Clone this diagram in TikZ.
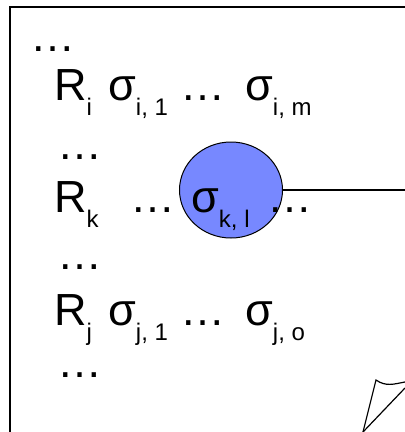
\documentclass[tikz,border=0pt]{standalone}
\usepackage{fontspec}
\setmainfont{Liberation Sans}
\usetikzlibrary{positioning,shapes.geometric}
\definecolor{markblue}{RGB}{119,136,255}
\newcommand{\lowsub}[1]{\raisebox{-15pt}{\fontsize{24}{24}\selectfont #1}}

\begin{document}
\begin{tikzpicture}[
  x=1pt, y=-1pt,
  term/.style={anchor=base west, inner sep=0pt, font=\fontsize{45}{45}\selectfont},
  gap/.style={term, text height=8pt, text depth=0pt},
  page/.style={draw, line width=1.6pt},
  chosen/.style={draw, line width=1pt, fill=markblue, ellipse, minimum width=103pt,
               minimum height=96pt, inner sep=0pt},
  link/.style={draw, line width=1.2pt}
]
\useasboundingbox (0,0) rectangle (405,432);
% the sheet and its folded corner
\draw[page] (10,440) -- (10,7) -- (412,7);
\draw[link] (363,432) -- (376,380) .. controls (386,387) and (394,384) .. (405,382);
\draw[link] (405,388) -- (363,432);
% the marked symbol
\node[chosen] (sel) at (231,190) {};
\coordinate (out) at (405,190);
\draw[link] (sel.east) -- (out);
% rows
\node[gap]  (top)  at (30,51)   {…};
\node[term] (ri)   at (54,100)  {R\lowsub{i}};
\node[term] (si1)  at (108,100) {σ\lowsub{i, 1}};
\node[gap]  (di)   at (180,100) {…};
\node[term] (sim)  at (245,100) {σ\lowsub{i, m}};
\node[gap]  (d1)   at (57,159)  {…};
\node[term] (rk)   at (54,212)  {R\lowsub{k}};
\node[gap]  (dk1)  at (130,212) {…};
\node[term] (skl)  at (191,212) {σ\lowsub{k, l}};
\node[gap]  (dk2)  at (267,212) {…};
\node[gap]  (d2)   at (57,269)  {…};
\node[term] (rj)   at (54,325)  {R\lowsub{j}};
\node[term] (sj1)  at (108,325) {σ\lowsub{j, 1}};
\node[gap]  (dj)   at (180,325) {…};
\node[term] (sjo)  at (245,325) {σ\lowsub{j, o}};
\node[gap]  (d3)   at (57,377)  {…};
\end{tikzpicture}
\end{document}
